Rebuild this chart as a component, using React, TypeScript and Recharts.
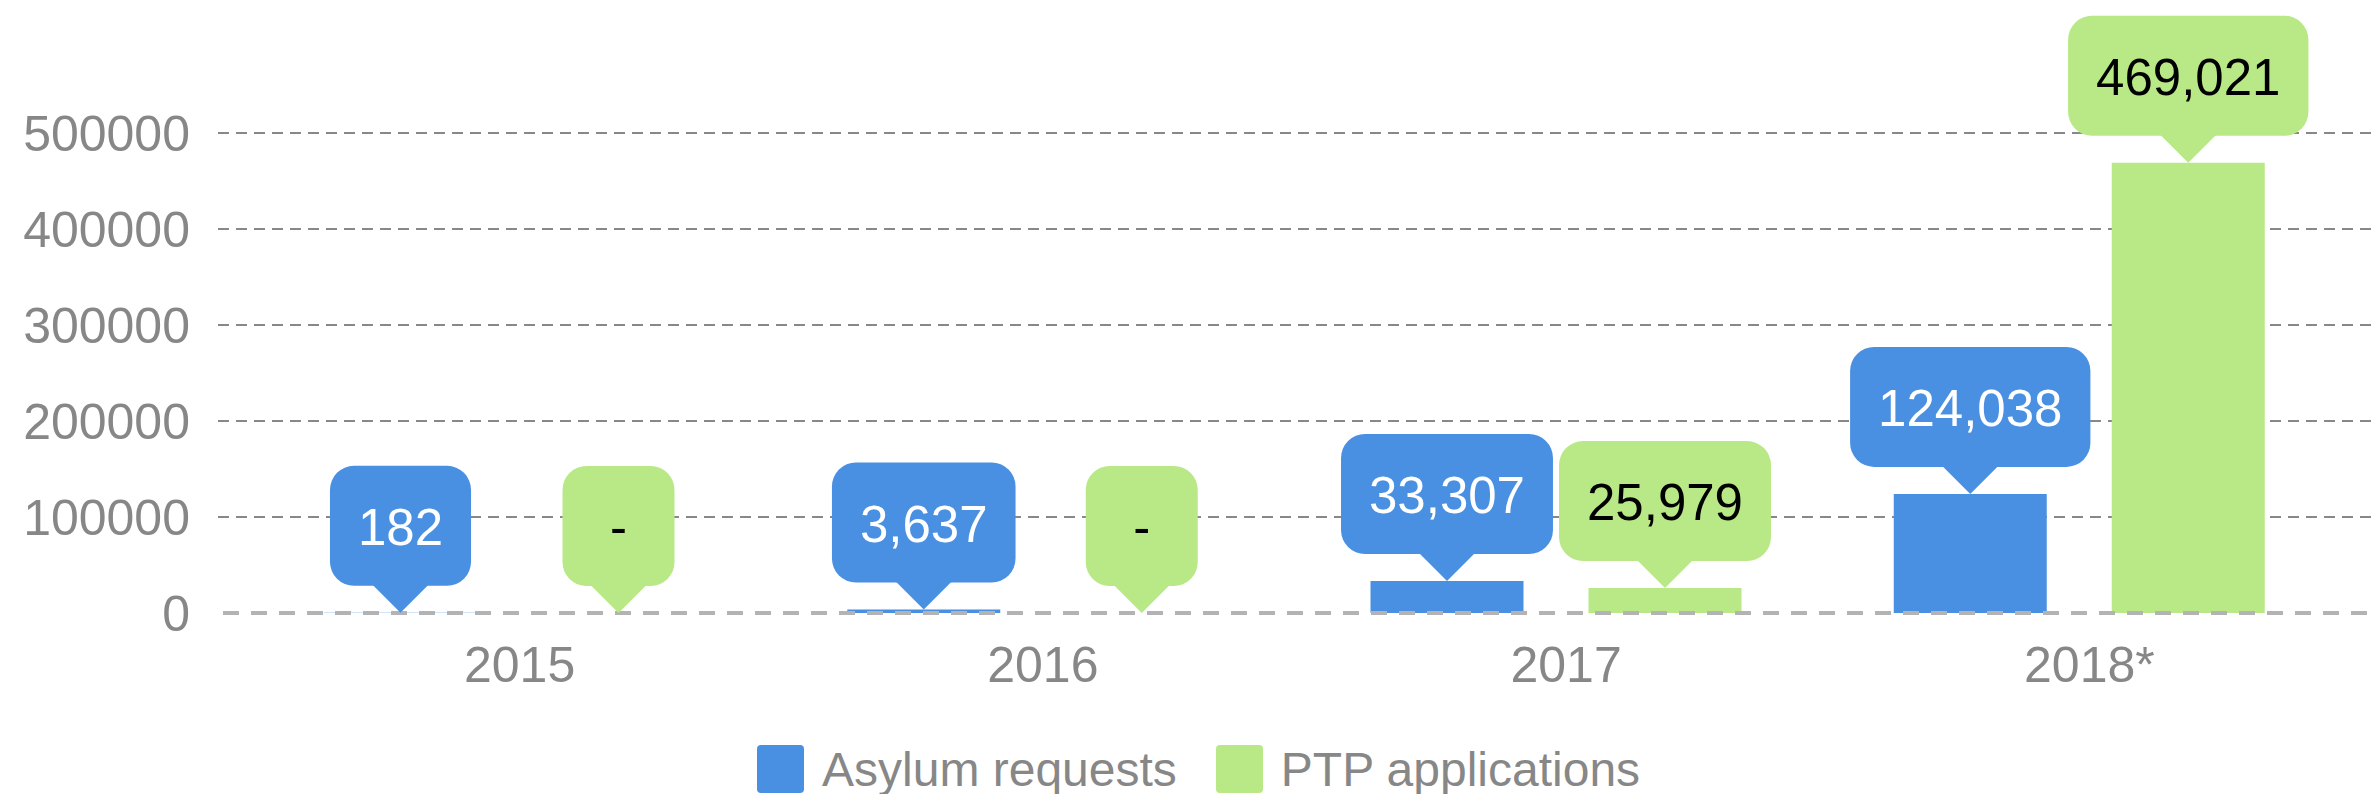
import { BarChart, Bar, XAxis, YAxis, CartesianGrid, Legend } from 'recharts'

const years = ['2015', '2016', '2017', '2018*']
const asylumRequests = [182, 3637, 33307, 124038]
// 0 = no PTP data for that year, the callout shows "-"
const ptpApplications = [0, 0, 25979, 469021]
const yTicks = [0, 100000, 200000, 300000, 400000, 500000]
const seriesNames = ['Asylum requests', 'PTP applications']

const BLUE = '#4a90e2'
const GREEN = '#b8e986'
const GREY = '#878787'
const FONT = '"Liberation Sans", Arial, sans-serif'

const data = years.map((year, i) => ({ year, asylum: asylumRequests[i], ptp: ptpApplications[i] }))

// rough Arial widths, enough to size the bubble
const textWidth = (s: string, fs: number) =>
  s.split('').reduce((w, c) => w + (c === ',' ? 0.278 : c === '-' ? 0.333 : 0.556) * fs, 0)

const callout = (fill: string, color: string) => (props: any) => {
  const { x, y, width, height, value } = props
  const cx = Number(x) + Number(width) / 2
  const tip = Number(y)
  const label = value ? Number(value).toLocaleString('en-US') : '-'
  const fs = 51
  const w = Math.max(112, textWidth(label, fs) + 56)
  const bottom = tip - 27
  const top = bottom - 120
  return (
    <g>
      <rect x={cx - w / 2} y={top} width={w} height={120} rx={24} ry={24} fill={fill} />
      <path d={`M${cx - 28},${bottom - 1} L${cx},${tip} L${cx + 28},${bottom - 1} Z`} fill={fill} />
      <text x={cx} y={top + 60 + 19} textAnchor="middle" fontSize={fs} fill={color} fontFamily={FONT}>{label}</text>
    </g>
  )
}

// keeps the empty PTP years in the bar list so their "-" bubble is still drawn
const keepEmpty = (value: any) => (value === 0 ? 0.01 : 0)

const XTick = (props: any) => {
  const { x, y, payload } = props
  return (
    <text x={x + 10} y={y + 35} textAnchor="middle" fontSize={50} fill={GREY} fontFamily={FONT}>{payload.value}</text>
  )
}

const renderLegend = () => (
  <div style={{ display: 'flex', alignItems: 'center', height: 50, marginLeft: 757, fontFamily: FONT }}>
    {seriesNames.map((name, i) => (
      <div key={name} style={{ display: 'flex', alignItems: 'center', marginRight: 39 }}>
        <div style={{ width: 47, height: 48, borderRadius: 4, background: i === 0 ? BLUE : GREEN, marginRight: 18 }} />
        <span style={{ fontSize: 48, lineHeight: '48px', color: GREY, paddingTop: 2 }}>{name}</span>
      </div>
    ))}
  </div>
)

export default function App() {
  return (
    <div style={{ position: 'absolute', left: 0, top: 0, width: 2374, height: 794, background: '#fff', fontFamily: FONT }}>
      <BarChart width={2374} height={794} data={data} margin={{ top: 133, right: 0, bottom: 0, left: 0 }} barGap={65}>
        <CartesianGrid vertical={false} horizontalValues={yTicks.slice(1)} stroke="#888" strokeWidth={2} strokeDasharray="11 7" />
        <YAxis
          domain={[0, 500000]}
          ticks={yTicks}
          width={218}
          axisLine={false}
          tickLine={false}
          tickSize={0}
          tickMargin={28}
          tick={{ fill: GREY, fontSize: 50 }}
          interval={0}
        />
        <XAxis
          dataKey="year"
          height={131}
          padding={{ left: 30, right: 33 }}
          axisLine={{ stroke: '#b3b3b3', strokeWidth: 4, strokeDasharray: '16 12', strokeDashoffset: 23 }}
          tickLine={false}
          tickSize={0}
          tickMargin={34}
          tick={<XTick />}
          interval={0}
        />
        <Legend verticalAlign="bottom" height={50} content={renderLegend} />
        <Bar dataKey="asylum" name={seriesNames[0]} fill={BLUE} barSize={153} isAnimationActive={false} label={callout(BLUE, '#ffffff')} />
        <Bar dataKey="ptp" name={seriesNames[1]} fill={GREEN} barSize={153} minPointSize={keepEmpty} isAnimationActive={false} label={callout(GREEN, '#000000')} />
      </BarChart>
    </div>
  )
}
